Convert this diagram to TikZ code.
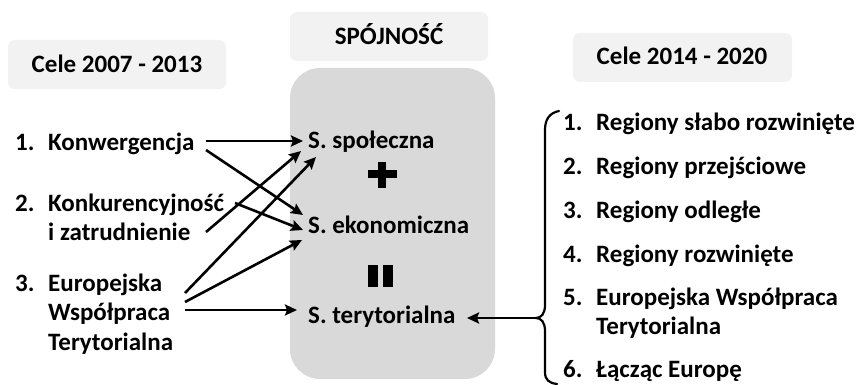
\documentclass[tikz,border=0pt]{standalone}
\usepackage{fontspec}
\setmainfont{Carlito}
\usetikzlibrary{arrows.meta}
\definecolor{boxlight}{HTML}{F2F2F2}
\definecolor{boxgray}{HTML}{D9D9D9}
\begin{document}
\begin{tikzpicture}[x=1pt,y=-1pt,
  txt/.style={anchor=base west, inner sep=0pt, font=\fontsize{25}{30}\selectfont\bfseries},
  ttl/.style={anchor=base, inner sep=0pt, font=\fontsize{25}{30}\selectfont\bfseries},
  titlebox/.style={fill=boxlight, rounded corners=7pt},
  arr/.style={line width=2.6pt, -{Stealth[length=12pt,width=11pt,inset=2pt]}},
  bracestyle/.style={line width=2.2pt, line cap=round}
]
\useasboundingbox (0,0) rectangle (859,385);

% title boxes
\fill[titlebox] (8,40) rectangle (226,89);
\node[ttl] (t1) at (117,73) {Cele 2007 - 2013};
\fill[titlebox] (290,12) rectangle (488,61);
\node[ttl] (t2) at (389,45) {SPÓJNOŚĆ};
\fill[titlebox] (573,33) rectangle (792,82);
\node[ttl] (t3) at (682,65) {Cele 2014 - 2020};

% central box
\fill[boxgray, rounded corners=30pt] (290,68) rectangle (495,379);

% left list
\node[txt] (n1) at (15,150) {1.};
\node[txt] (l1) at (48,150) {Konwergencja};
\node[txt] (n2) at (15,211) {2.};
\node[txt] (l2a) at (48,211) {Konkurencyjność};
\node[txt] (l2b) at (48,240) {i zatrudnienie};
\node[txt] (n3) at (15,291) {3.};
\node[txt] (l3a) at (48,291) {Europejska};
\node[txt] (l3b) at (48,320) {Współpraca};
\node[txt] (l3c) at (48,350) {Terytorialna};

% centre
\node[txt] (sp) at (308,148) {S. społeczna};
\node[txt] (ek) at (308,233) {S. ekonomiczna};
\node[txt] (te) at (308,323) {S. terytorialna};
\fill (368,170) rectangle (397,178);
\fill (378,162) rectangle (386,188);
\fill (368,265) rectangle (378,287);
\fill (383,265) rectangle (393,287);

% right list
\node[txt] (r1n) at (563,131) {1.};
\node[txt] (r1) at (596,131) {Regiony słabo rozwinięte};
\node[txt] (r2n) at (563,174) {2.};
\node[txt] (r2) at (596,174) {Regiony przejściowe};
\node[txt] (r3n) at (563,218) {3.};
\node[txt] (r3) at (596,218) {Regiony odległe};
\node[txt] (r4n) at (563,262) {4.};
\node[txt] (r4) at (596,262) {Regiony rozwinięte};
\node[txt] (r5n) at (563,305) {5.};
\node[txt] (r5a) at (596,305) {Europejska Współpraca};
\node[txt] (r5b) at (596,334) {Terytorialna};
\node[txt] (r6n) at (563,377) {6.};
\node[txt] (r6) at (596,377) {Łącząc Europę};

% connector end points
\coordinate (k1a) at (206,141);
\coordinate (k1b) at (206,150);
\coordinate (k2a) at (235,203);
\coordinate (k2b) at (206,232);
\coordinate (e3a) at (185,293);
\coordinate (e3b) at (185,302);
\coordinate (e3c) at (185,310);
\coordinate (spa) at (303,141);
\coordinate (spb) at (301,151);
\coordinate (spc) at (316,157);
\coordinate (eka) at (303,215);
\coordinate (ekb) at (303,230);
\coordinate (ekc) at (302,240);
\coordinate (tea) at (297,310);
\coordinate (teb) at (467,318);
\coordinate (tip) at (536,318);

\draw[arr] (k1a) -- (spa);
\draw[arr] (k1b) -- (eka);
\draw[arr] (k2a) -- (ekb);
\draw[arr] (k2b) -- (spb);
\draw[arr] (e3a) -- (spc);
\draw[arr] (e3b) -- (ekc);
\draw[arr] (e3c) -- (tea);
\draw[arr] (tip) -- (teb);

% brace
\draw[bracestyle] (559,111) .. controls (549,113) and (545,120) .. (545,130) -- (545,305)
  .. controls (545,314) and (541,318) .. (tip)
  .. controls (541,318) and (545,322) .. (545,331) -- (545,372)
  .. controls (545,380) and (549,383) .. (557,384);
\end{tikzpicture}
\end{document}
